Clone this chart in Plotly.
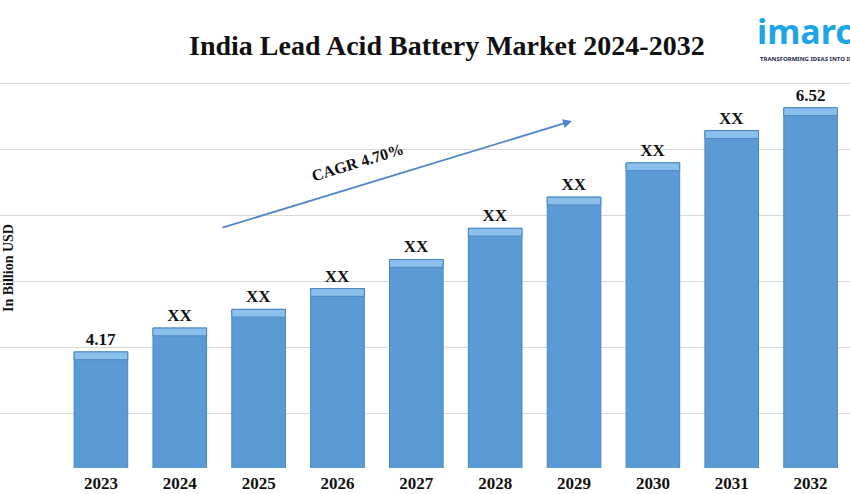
import plotly.graph_objects as go

years = ["2023", "2024", "2025", "2026", "2027", "2028", "2029", "2030", "2031", "2032"]
values = [4.17, 4.40, 4.58, 4.78, 5.06, 5.36, 5.66, 5.99, 6.30, 6.52]
labels = ["4.17", "XX", "XX", "XX", "XX", "XX", "XX", "XX", "XX", "6.52"]

title_text = "India Lead Acid Battery Market 2024-2032"
yaxis_title = "In Billion USD"
cagr_text = "CAGR 4.70%"

x_pos = list(range(len(years)))
bevel = 0.075

W, H, T, B = 850, 494, 60, 26
PH = H - T - B


def px(x):
    return x / W


def py(y):
    return (H - B - y) / PH


fig = go.Figure()
fig.add_trace(go.Bar(
    x=x_pos, y=values, width=0.68,
    marker=dict(color="#5b9bd5", line=dict(color="#4a86c0", width=1)),
    text=labels, textposition="outside",
    textfont=dict(family="Liberation Serif", size=17, color="#111111", weight="bold"),
    cliponaxis=False, hoverinfo="skip",
))
fig.add_trace(go.Bar(
    x=x_pos, y=[bevel] * len(values), base=[v - bevel for v in values], width=0.68,
    marker=dict(color="#8cc0ec", line=dict(color="#4a86c0", width=1)),
    hoverinfo="skip",
))

fig.update_layout(
    width=W, height=H,
    margin=dict(l=0, r=0, t=T, b=B),
    paper_bgcolor="white", plot_bgcolor="white",
    showlegend=False, barmode="overlay",
    xaxis=dict(
        range=[-1.28, 9.5], tickmode="array", tickvals=x_pos, ticktext=years,
        tickfont=dict(family="Liberation Serif", size=17, color="#111111", weight="bold"),
        ticklabelstandoff=3,
        showgrid=False, zeroline=False, showline=False, ticks="",
    ),
    yaxis=dict(
        range=[3.053, 6.98], tick0=3.573, dtick=0.636,
        showgrid=True, gridcolor="#d9d9d9", gridwidth=1,
        showticklabels=False, zeroline=False, showline=False, ticks="",
    ),
    font=dict(family="Liberation Serif"),
)

annotations = [
    dict(text="<b>" + title_text + "</b>", x=px(447), y=py(46),
         font=dict(family="Liberation Serif", size=28, color="#111111")),
    dict(text="<b>" + yaxis_title + "</b>", x=px(8), y=py(268), textangle=-90,
         font=dict(family="Liberation Serif", size=14, color="#111111")),
    dict(text="<b>" + cagr_text + "</b>", x=px(357), y=py(162), textangle=-17,
         font=dict(family="Liberation Serif", size=16, color="#111111")),
    dict(text="<b>imarc</b>", x=px(755), y=py(31), xanchor="left",
         font=dict(family="Noto Sans", size=34, color="#1ea5e6")),
    dict(text="<b>TRANSFORMING IDEAS INTO IMPACT</b>", x=px(758), y=py(59), xanchor="left",
         font=dict(family="Noto Sans", size=6, color="#1b2a4a")),
]
for a in annotations:
    a["xref"] = "paper"
    a["yref"] = "paper"
    a["showarrow"] = False
    a.setdefault("xanchor", "center")
    a["yanchor"] = "middle"
fig.update_layout(annotations=annotations)

# CAGR arrow
fig.add_annotation(
    x=px(572), y=py(121), xref="x domain", yref="y domain",
    ax=px(221), ay=py(228), axref="x domain", ayref="y domain",
    showarrow=True, arrowhead=2, arrowsize=1, arrowwidth=1.8, arrowcolor="#4f86c6", text="",
)

fig.write_html("out.html", config={"displayModeBar": False},
               post_script="document.body.style.margin='0';")
